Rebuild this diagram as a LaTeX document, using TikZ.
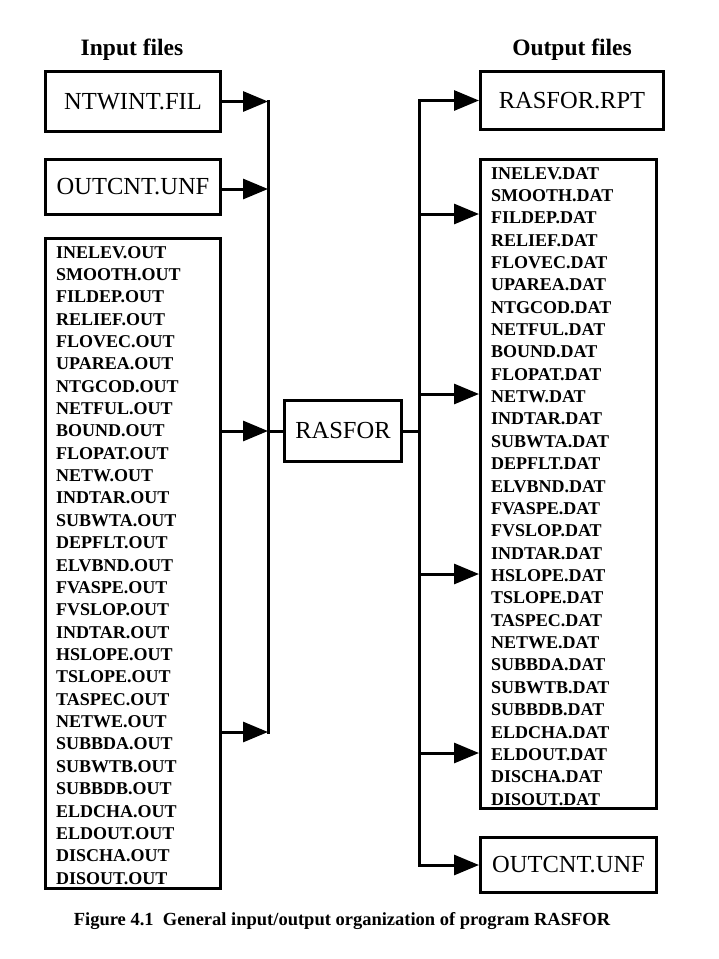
\documentclass[tikz,border=0pt]{standalone}
\usepackage{fontspec}
\setmainfont{Liberation Serif}
\usetikzlibrary{arrows.meta}
\begin{document}
\begin{tikzpicture}[x=1pt,y=-1pt,
  box/.style={draw,line width=3pt,inner sep=0pt,font=\fontsize{24.5}{24.5}\selectfont},
  lst/.style={anchor=base west,inner sep=0pt,font=\bfseries\fontsize{18}{18}\selectfont},
  ttl/.style={inner sep=0pt,font=\bfseries\fontsize{23.5}{23.5}\selectfont},
  wire/.style={line width=3pt},
  arr/.style={line width=3pt,-{Triangle[length=25pt,width=20pt]}},
  vline/.style={line width=3pt,line cap=rect}]
\useasboundingbox (0,0) rectangle (719,959);
\fill[white] (0,0) rectangle (719,959);

% titles
\node[ttl] (tin) at (132,50) {Input files};
\node[ttl] (tout) at (572,50) {Output files};

% input boxes
\node[box,minimum width=175pt,minimum height=60pt] (ntw) at (133,101.5) {NTWINT.FIL};
\node[box,minimum width=175pt,minimum height=55pt] (inunf) at (133,187) {OUTCNT.UNF};
\node[box,minimum width=175pt,minimum height=650pt] (inlist) at (133,563.5) {};
\foreach \t [count=\i from 0] in {INELEV,SMOOTH,FILDEP,RELIEF,FLOVEC,UPAREA,NTGCOD,NETFUL,BOUND,FLOPAT,NETW,INDTAR,SUBWTA,DEPFLT,ELVBND,FVASPE,FVSLOP,INDTAR,HSLOPE,TSLOPE,TASPEC,NETWE,SUBBDA,SUBWTB,SUBBDB,ELDCHA,ELDOUT,DISCHA,DISOUT}
  \node[lst] (in\i) at (56,{258+22.36*\i}) {\t.OUT};

% program
\node[box,minimum width=117pt,minimum height=61pt] (ras) at (343,431) {RASFOR};

% output boxes
\node[box,minimum width=183pt,minimum height=58pt] (rpt) at (572,100.5) {RASFOR.RPT};
\node[box,minimum width=176pt,minimum height=649pt] (outlist) at (568.5,484) {};
\foreach \t [count=\i from 0] in {INELEV,SMOOTH,FILDEP,RELIEF,FLOVEC,UPAREA,NTGCOD,NETFUL,BOUND,FLOPAT,NETW,INDTAR,SUBWTA,DEPFLT,ELVBND,FVASPE,FVSLOP,INDTAR,HSLOPE,TSLOPE,TASPEC,NETWE,SUBBDA,SUBWTB,SUBBDB,ELDCHA,ELDOUT,DISCHA,DISOUT}
  \node[lst] (out\i) at (491,{179+22.36*\i}) {\t.DAT};
\node[box,minimum width=176pt,minimum height=55pt] (outunf) at (568.5,865) {OUTCNT.UNF};

% junction coordinates
\coordinate (L1) at (268,101.5);
\coordinate (L2) at (268,189);
\coordinate (L3) at (268,431);
\coordinate (L4) at (268,732);
\coordinate (R1) at (419,100.5);
\coordinate (R2) at (419,214);
\coordinate (R3) at (419,394);
\coordinate (R4) at (419,574);
\coordinate (R5) at (419,753);
\coordinate (R6) at (419,865);
\coordinate (RM) at (419,431);

% input side
\draw[vline] (L1) -- (L4);
\draw[arr] (ntw.east) -- (L1);
\draw[arr] (inunf.east |- L2) -- (L2);
\draw[arr] (inlist.east |- L3) -- (L3);
\draw[arr] (inlist.east |- L4) -- (L4);
\draw[wire] (L3) -- (ras.west);

% output side
\draw[wire] (ras.east) -- (RM);
\draw[vline] (R1) -- (R6);
\draw[arr] (R1) -- (rpt.west);
\draw[arr] (R2) -- (outlist.west |- R2);
\draw[arr] (R3) -- (outlist.west |- R3);
\draw[arr] (R4) -- (outlist.west |- R4);
\draw[arr] (R5) -- (outlist.west |- R5);
\draw[arr] (R6) -- (outunf.west);

% caption
\node[inner sep=0pt,font=\bfseries\fontsize{18.5}{18.5}\selectfont] (cap) at (342,921) {Figure 4.1\ \ General input/output organization of program RASFOR};
\end{tikzpicture}
\end{document}
